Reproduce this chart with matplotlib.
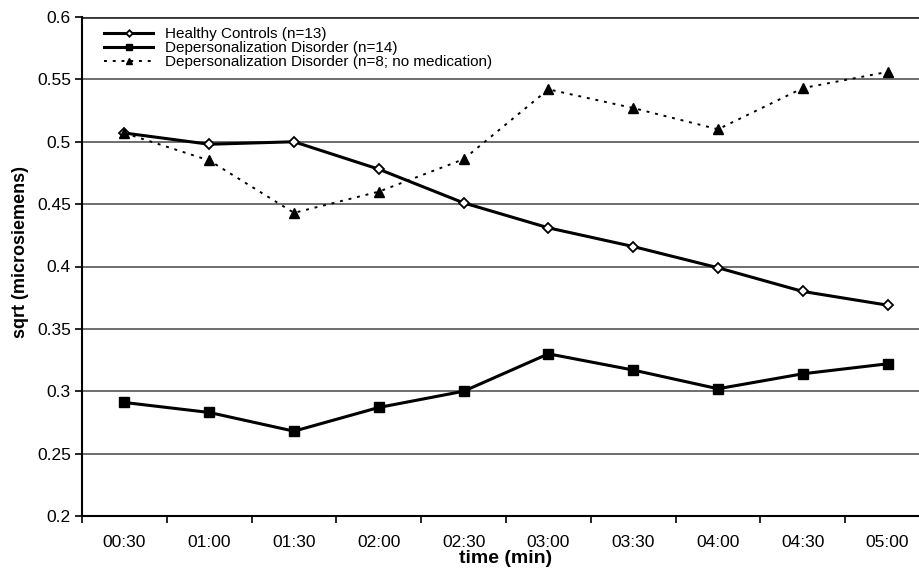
import matplotlib.pyplot as plt
import numpy as np

plt.rcParams['font.family'] = ['Liberation Sans', 'DejaVu Sans']

# data
times = ["00:30", "01:00", "01:30", "02:00", "02:30", "03:00", "03:30", "04:00", "04:30", "05:00"]
healthy = [0.507, 0.498, 0.500, 0.478, 0.451, 0.431, 0.416, 0.399, 0.380, 0.369]
dpd = [0.291, 0.283, 0.268, 0.287, 0.300, 0.330, 0.317, 0.302, 0.314, 0.322]
dpd_nomed = [0.507, 0.485, 0.443, 0.460, 0.486, 0.542, 0.527, 0.510, 0.543, 0.556]
yticks = [0.2, 0.25, 0.3, 0.35, 0.4, 0.45, 0.5, 0.55, 0.6]
ytick_labels = ["0.2", "0.25", "0.3", "0.35", "0.4", "0.45", "0.5", "0.55", "0.6"]

fig = plt.figure(figsize=(9.2, 5.7), dpi=100)
ax = fig.add_axes([82/920, 54/570, 848/920, 499/570])

xx = np.arange(len(times))

for y in yticks[1:-1]:
    ax.axhline(y, color='#555555', lw=1.2, zorder=1)
ax.axhline(yticks[-1], color='#333333', lw=2, zorder=1)

ax.plot(xx, healthy, color='black', lw=2.2, marker='D', ms=5.5,
        mfc='white', mec='black', mew=1.3, label="Healthy Controls (n=13)", zorder=3)
ax.plot(xx, dpd, color='black', lw=2.2, marker='s', ms=7.5,
        mfc='black', mec='black', label="Depersonalization Disorder (n=14)", zorder=3)
ax.plot(xx, dpd_nomed, color='black', lw=1.4, ls=(0, (1.5, 3)), marker='^', ms=7.5,
        mfc='black', mec='black', label="Depersonalization Disorder (n=8; no medication)", zorder=3)

ax.set_xlim(-0.5, len(times) - 0.5)
ax.set_ylim(0.2, 0.6)
ax.set_xticks(xx)
ax.set_xticklabels(times, fontsize=12.5)
ax.set_xticks(np.arange(len(times) + 1) - 0.5, minor=True)
ax.tick_params(axis='x', which='major', length=0, pad=14)
ax.tick_params(axis='x', which='minor', length=5, width=1.2, direction='out')
ax.set_yticks(yticks)
ax.set_yticklabels(ytick_labels, fontsize=12.5)
ax.tick_params(axis='y', length=5, width=1.2, direction='out', pad=3)

ax.spines['right'].set_visible(False)
ax.spines['top'].set_visible(False)
ax.spines['left'].set_linewidth(1.5)
ax.spines['bottom'].set_linewidth(1.5)

ax.set_xlabel('time (min)', fontsize=14, fontweight='bold', labelpad=0)
ax.set_ylabel('sqrt (microsiemens)', fontsize=13, fontweight='bold')
ax.yaxis.set_label_coords(-0.062, 0.53)

ax.legend(loc='upper left', bbox_to_anchor=(0.018, 0.993), frameon=False, fontsize=11,
          handlelength=3.2, labelspacing=0.0, borderpad=0.25, borderaxespad=0.2,
          handletextpad=0.8, markerscale=0.6)

fig.savefig('out.png', dpi=100)
